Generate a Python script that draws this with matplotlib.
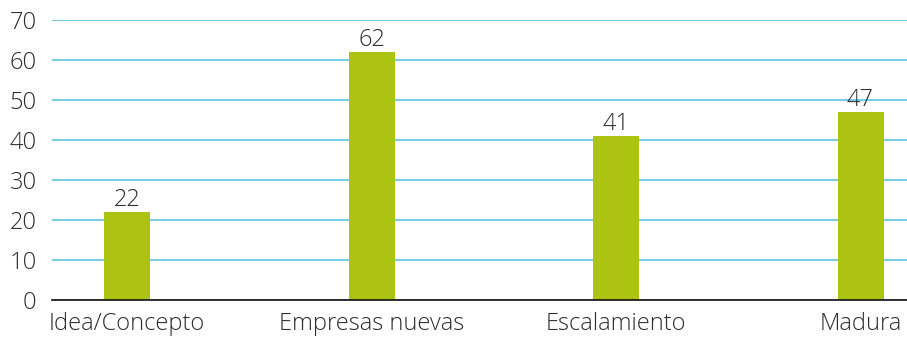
import matplotlib
matplotlib.use("Agg")
import matplotlib.pyplot as plt

categories = ["Idea/Concepto", "Empresas nuevas", "Escalamiento", "Madura"]
values = [22, 62, 41, 47]
yticks = [0, 10, 20, 30, 40, 50, 60, 70]

plt.rcParams['font.family'] = ['Open Sans', 'DejaVu Sans']
plt.rcParams['font.weight'] = 'light'
TEXT = "#2e2e2e"
FS = 17

fig = plt.figure(figsize=(9.07, 3.38), dpi=100)
ax = fig.add_axes([52/907, 1 - 300/338, 855/907, 280/338])

x = list(range(len(categories)))
ax.bar(x, values, width=0.188, color="#adc312", zorder=3)
for xi, v in zip(x, values):
    ax.text(xi, v + 0.1, str(v), ha="center", va="bottom", fontsize=FS,
            color=TEXT)

ax.set_xlim(-0.307, 3.19)
ax.set_ylim(0, 70)
ax.set_yticks(yticks)
ax.set_xticks(x)
ax.set_xticklabels(categories)
ax.tick_params(axis="both", length=0, labelsize=FS, colors=TEXT)
ax.tick_params(axis="y", pad=11)
ax.tick_params(axis="x", pad=9)

ax.yaxis.grid(True, color="#5ec4e2", linewidth=1.2, zorder=0)
for s in ["top", "right", "left"]:
    ax.spines[s].set_visible(False)
ax.spines["bottom"].set_color("#111111")
ax.spines["bottom"].set_linewidth(1.2)
ax.spines["bottom"].set_zorder(4)

fig.savefig("out.png", dpi=100)
